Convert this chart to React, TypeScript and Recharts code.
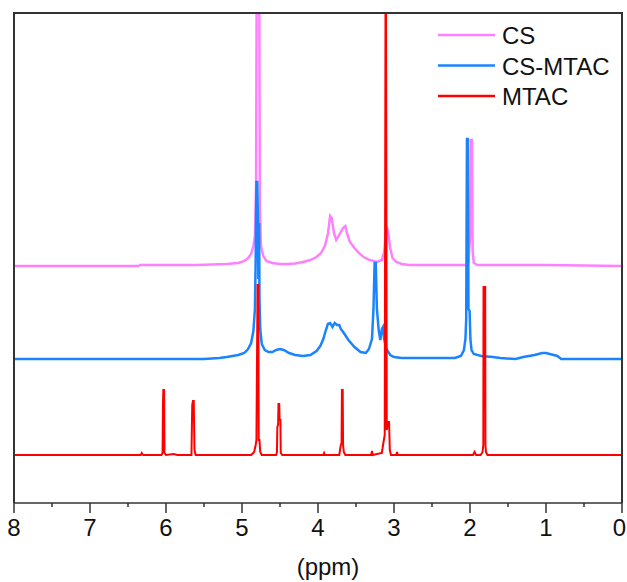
import React from 'react';
import { LineChart, Line, XAxis, YAxis, ReferenceLine } from 'recharts';

// Series: [ppm, intensity above own baseline]; the tallest peaks run to the top of the frame
const CS_POINTS: [number, number][] = [
  [8.0, 0], [6.36, 0], [6.34, 1], [5.8, 1], [5.6, 1], [5.4, 1.5], [5.2, 2], [5.05, 3], [4.97, 5],
  [4.92, 8], [4.88, 12], [4.85, 20], [4.83, 30], [4.815, 80], [4.808, 253], [4.772, 253], [4.765, 60],
  [4.75, 20], [4.72, 10], [4.68, 5], [4.6, 3], [4.5, 2], [4.4, 2], [4.3, 2.5], [4.2, 4], [4.1, 6],
  [4.02, 9], [3.96, 13], [3.91, 20], [3.87, 32], [3.84, 50], [3.82, 48], [3.79, 33], [3.76, 26],
  [3.73, 30], [3.7, 34], [3.67, 38], [3.64, 40], [3.62, 33], [3.58, 24], [3.52, 18], [3.46, 13],
  [3.4, 9], [3.32, 6], [3.22, 4], [3.16, 6], [3.13, 14], [3.1, 39], [3.08, 36], [3.05, 18], [3.02, 8],
  [2.97, 4], [2.9, 2], [2.8, 1], [2.05, 1], [2.02, 4], [2.0, 28], [1.99, 126], [1.975, 126],
  [1.965, 15], [1.95, 3], [1.9, 1], [1.5, 1], [1.0, 1], [0.5, 0.5], [0, 0],
];

const CSMTAC_POINTS: [number, number][] = [
  [8.0, 0], [5.5, 0], [5.3, 1], [5.2, 2], [5.05, 4], [4.97, 6], [4.92, 10], [4.88, 16], [4.85, 28],
  [4.83, 50], [4.82, 100], [4.81, 177], [4.8, 177], [4.79, 140], [4.785, 80], [4.775, 136], [4.77, 60],
  [4.76, 30], [4.74, 15], [4.7, 9], [4.65, 7], [4.6, 7], [4.55, 9], [4.5, 10], [4.45, 9], [4.38, 6],
  [4.3, 4], [4.2, 3], [4.1, 4], [4.02, 8], [3.97, 13], [3.93, 20], [3.9, 28], [3.87, 35], [3.84, 36],
  [3.81, 32], [3.78, 36], [3.75, 34], [3.72, 34], [3.7, 30], [3.66, 26], [3.6, 19], [3.52, 12],
  [3.44, 7], [3.37, 6], [3.33, 10], [3.29, 20], [3.27, 50], [3.255, 96], [3.24, 96], [3.225, 50],
  [3.2, 28], [3.18, 19], [3.16, 30], [3.145, 32], [3.13, 20], [3.1, 10], [3.05, 4], [3.0, 2],
  [2.9, 1], [2.2, 1], [2.12, 3], [2.08, 9], [2.06, 20], [2.05, 40], [2.04, 220], [2.03, 220],
  [2.02, 50], [2.005, 48], [1.995, 20], [1.98, 9], [1.95, 5], [1.85, 3], [1.7, 2], [1.6, 1],
  [1.4, 0], [1.3, 2], [1.15, 4], [1.05, 6], [1.0, 6], [0.95, 5], [0.85, 3], [0.8, 0], [0, 0],
];

const MTAC_POINTS: [number, number][] = [
  [8.0, 0], [6.33, 0], [6.32, 2], [6.3, 0], [6.06, 0], [6.045, 2], [6.04, 50], [6.035, 65],
  [6.025, 65], [6.02, 2], [6.0, 0], [5.9, 1], [5.85, 0], [5.665, 0], [5.655, 50], [5.645, 54],
  [5.635, 54], [5.625, 5], [5.61, 0], [4.88, 0], [4.84, 3], [4.82, 10], [4.81, 15], [4.805, 70],
  [4.795, 170], [4.785, 170], [4.78, 15], [4.77, 15], [4.76, 3], [4.74, 0], [4.55, 0], [4.54, 3],
  [4.535, 28], [4.525, 30], [4.52, 51], [4.51, 51], [4.505, 35], [4.495, 35], [4.49, 2], [4.47, 0],
  [3.93, 0], [3.92, 2], [3.91, 0], [3.72, 0], [3.7, 10], [3.69, 12], [3.685, 65], [3.675, 65],
  [3.67, 10], [3.66, 3], [3.64, 0], [3.3, 0], [3.29, 4], [3.28, 0], [3.16, 2], [3.14, 12],
  [3.122, 20], [3.112, 442], [3.105, 442], [3.095, 25], [3.08, 33], [3.065, 33], [3.055, 5], [3.04, 0],
  [2.97, 0], [2.96, 3], [2.95, 0], [1.96, 0], [1.94, 3], [1.92, 0], [1.86, 0], [1.835, 3],
  [1.825, 10], [1.822, 168], [1.8, 168], [1.797, 10], [1.79, 3], [1.77, 0], [0, 0],
];

const SERIES_NAMES = ['CS', 'CS-MTAC', 'MTAC'];
const SERIES_COLORS = ['#ff80ff', '#1a84ff', '#ff0000'];
const SERIES_OFFSETS = [237, 144, 48];
const X_TICKS = [0, 0.5, 1, 1.5, 2, 2.5, 3, 3.5, 4, 4.5, 5, 5.5, 6, 6.5, 7, 7.5, 8];
const X_LABEL = '(ppm)';
const X_DOMAIN: [number, number] = [0, 8];
const Y_DOMAIN: [number, number] = [0, 490];

const build = (pts: [number, number][], off: number) => pts.map(([ppm, v]) => ({ ppm, y: v + off }));
const seriesData = [build(CS_POINTS, SERIES_OFFSETS[0]), build(CSMTAC_POINTS, SERIES_OFFSETS[1]), build(MTAC_POINTS, SERIES_OFFSETS[2])];

const FONT = '"Liberation Sans", Arial, sans-serif';
const AXIS_COLOR = '#333';

const Tick = (props: any) => {
  const { x, y, payload } = props;
  const v = payload.value;
  const major = Number.isInteger(v);
  const last = v === 0;
  return (
    <g>
      <line x1={x} x2={x} y1={y} y2={y + (major ? 10 : 4)} stroke={AXIS_COLOR} strokeWidth={1.5} />
      {major && (
        <text x={last ? x + 4 : x} y={y + 33} textAnchor={last ? 'end' : 'middle'} fontSize={24} fontFamily={FONT} fill="#111">
          {v}
        </text>
      )}
    </g>
  );
};

export default function App() {
  return (
    <div style={{ position: 'relative', width: 627, height: 582, background: '#fff' }}>
      <style>{`body{margin:0}`}</style>
      <LineChart width={627} height={582} margin={{ top: 13, right: 5, bottom: 19, left: 14 }}>
        <XAxis
          dataKey="ppm"
          type="number"
          domain={X_DOMAIN}
          reversed
          allowDataOverflow
          ticks={X_TICKS}
          interval={0}
          height={60}
          tickSize={0}
          tickMargin={0}
          tickLine={false}
          axisLine={{ stroke: AXIS_COLOR, strokeWidth: 1.5 }}
          tick={<Tick />}
          label={{
            content: () => (
              <text x={328} y={575} textAnchor="middle" fontSize={24} fontFamily={FONT} fill="#111">
                {X_LABEL}
              </text>
            ),
          }}
        />
        <YAxis type="number" domain={Y_DOMAIN} allowDataOverflow hide width={0} />
        {seriesData.map((d, i) => (
          <Line
            key={SERIES_NAMES[i]}
            data={d}
            dataKey="y"
            name={SERIES_NAMES[i]}
            type="linear"
            stroke={SERIES_COLORS[i]}
            strokeWidth={i === 2 ? 2 : 2.5}
            dot={false}
            activeDot={false}
            isAnimationActive={false}
          />
        ))}
        <ReferenceLine y={Y_DOMAIN[1]} stroke={AXIS_COLOR} strokeWidth={2} ifOverflow="visible" />
        <ReferenceLine x={X_DOMAIN[0]} stroke={AXIS_COLOR} strokeWidth={2} ifOverflow="visible" />
        <ReferenceLine x={X_DOMAIN[1]} stroke={AXIS_COLOR} strokeWidth={2} ifOverflow="visible" />
      </LineChart>
      <div
        style={{
          position: 'absolute',
          left: 13,
          top: 12,
          width: 606,
          height: 489,
          borderTop: '2px solid #333',
          borderLeft: '2px solid #333',
          borderRight: '2px solid #333',
          pointerEvents: 'none',
        }}
      />
      <svg width={627} height={582} style={{ position: 'absolute', left: 0, top: 0, pointerEvents: 'none' }}>
        {SERIES_NAMES.map((n, i) => (
          <g key={n}>
            <line x1={438} x2={495} y1={35 + i * 30.5} y2={35 + i * 30.5} stroke={SERIES_COLORS[i]} strokeWidth={2.5} />
            <text x={502} y={44 + i * 30.5} fontSize={24} fontFamily={FONT} fill="#111">
              {n}
            </text>
          </g>
        ))}
      </svg>
    </div>
  );
}
